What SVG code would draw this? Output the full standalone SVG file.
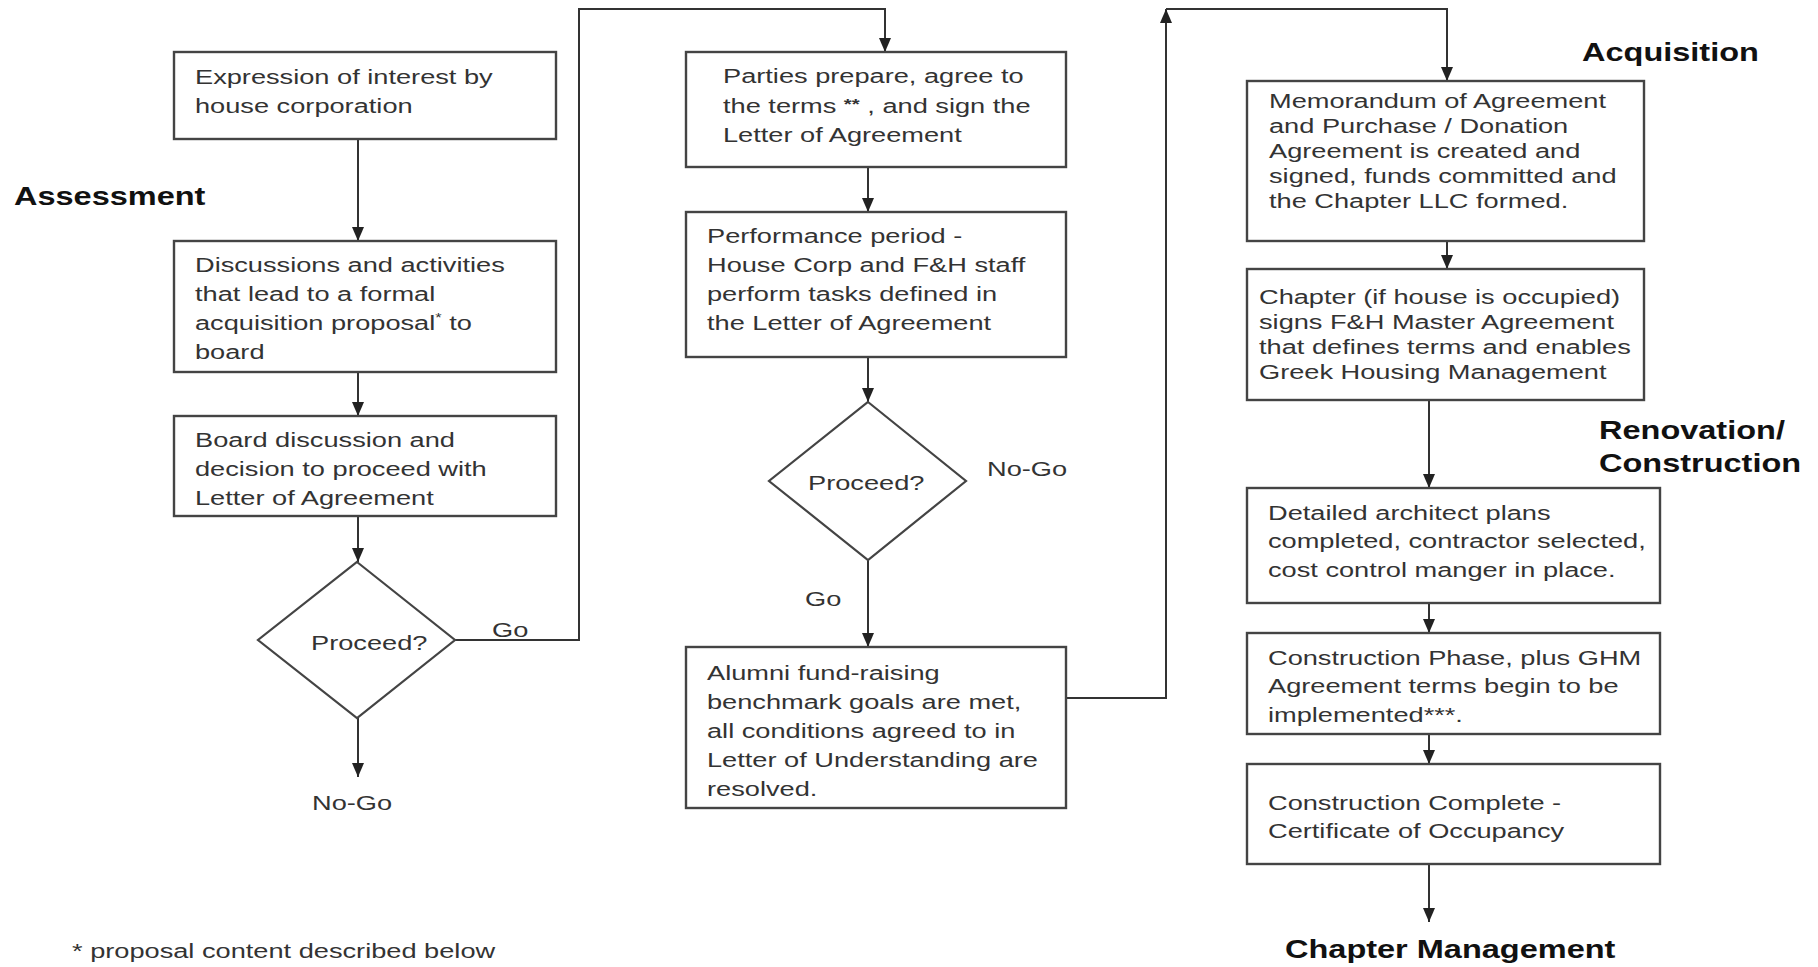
<svg xmlns="http://www.w3.org/2000/svg" width="1818" height="967" viewBox="0 0 1818 967">
<style>
.box{fill:#fff;stroke:#444;stroke-width:2.4}
.dia{fill:#fff;stroke:#444;stroke-width:2.2}
.ln{fill:none;stroke:#333;stroke-width:2}
.t{font-family:"Liberation Sans",Arial,sans-serif;font-size:20px;fill:#333}
.h{font-family:"Liberation Sans",Arial,sans-serif;font-size:26px;font-weight:bold;fill:#111}
</style>
<defs>
<marker id="ar" markerUnits="userSpaceOnUse" markerWidth="14" markerHeight="12" refX="14" refY="6" orient="auto">
<path d="M0,0 L14,6 L0,12 z" fill="#222"/>
</marker>
</defs>
<rect width="1818" height="967" fill="#fff"/>

<g id="connectors">
<path class="ln" d="M358,139 V241" marker-end="url(#ar)"/>
<path class="ln" d="M358,372 V416" marker-end="url(#ar)"/>
<path class="ln" d="M358,516 V562" marker-end="url(#ar)"/>
<path class="ln" d="M358,718 V777" marker-end="url(#ar)"/>
<path class="ln" d="M455,640 H579 V9 H885 V52" marker-end="url(#ar)"/>
<path class="ln" d="M868,167 V212" marker-end="url(#ar)"/>
<path class="ln" d="M868,357 V402" marker-end="url(#ar)"/>
<path class="ln" d="M868,560 V647" marker-end="url(#ar)"/>
<path class="ln" d="M1066,698 H1166 V9" marker-end="url(#ar)"/>
<path class="ln" d="M1166,9 H1447 V81" marker-end="url(#ar)"/>
<path class="ln" d="M1447,241 V269" marker-end="url(#ar)"/>
<path class="ln" d="M1429,400 V488" marker-end="url(#ar)"/>
<path class="ln" d="M1429,603 V633" marker-end="url(#ar)"/>
<path class="ln" d="M1429,734 V764" marker-end="url(#ar)"/>
<path class="ln" d="M1429,864 V922" marker-end="url(#ar)"/>
<g transform="matrix(1.36 0 0 1 492 0)"><text class="t" x="0" y="637">Go</text></g>
<g transform="matrix(1.36 0 0 1 312 0)"><text class="t" x="0" y="810">No-Go</text></g>
<g transform="matrix(1.36 0 0 1 805 0)"><text class="t" x="0" y="606">Go</text></g>
<g transform="matrix(1.36 0 0 1 987 0)"><text class="t" x="0" y="476">No-Go</text></g>
</g>

<g id="label-assessment" transform="matrix(1.25 0 0 1 14 0)"><text class="h" x="0" y="205">Assessment</text></g>
<g id="label-acquisition" transform="matrix(1.25 0 0 1 1582 0)"><text class="h" x="0" y="61">Acquisition</text></g>
<g id="label-renovation" transform="matrix(1.25 0 0 1 1599 0)"><text class="h" x="0" y="439">Renovation/</text><text class="h" x="0" y="472">Construction</text></g>
<g id="label-chapter-management" transform="matrix(1.25 0 0 1 1285 0)"><text class="h" x="0" y="958">Chapter Management</text></g>

<g id="n-expression">
<rect class="box" x="174" y="52" width="382" height="87"/>
<g transform="matrix(1.36 0 0 1 195 0)"><text class="t" x="0" y="84">Expression of interest by</text><text class="t" x="0" y="113">house corporation</text></g>
</g>
<g id="n-discussions">
<rect class="box" x="174" y="241" width="382" height="131"/>
<g transform="matrix(1.36 0 0 1 195 0)"><text class="t" x="0" y="272">Discussions and activities</text><text class="t" x="0" y="301">that lead to a formal</text><text class="t" x="0" y="330">acquisition proposal<tspan font-size="12" dy="-8">*</tspan><tspan dy="8"> to</tspan></text><text class="t" x="0" y="359">board</text></g>
</g>
<g id="n-board">
<rect class="box" x="174" y="416" width="382" height="100"/>
<g transform="matrix(1.36 0 0 1 195 0)"><text class="t" x="0" y="447">Board discussion and</text><text class="t" x="0" y="476">decision to proceed with</text><text class="t" x="0" y="505">Letter of Agreement</text></g>
</g>
<g id="n-proceed1">
<polygon class="dia" points="357,562 455,640 357,718 258,640"/>
<g transform="matrix(1.36 0 0 1 311 0)"><text class="t" x="0" y="650">Proceed?</text></g>
</g>

<g id="n-parties">
<rect class="box" x="686" y="52" width="380" height="115"/>
<g transform="matrix(1.36 0 0 1 723 0)"><text class="t" x="0" y="83">Parties prepare, agree to</text><text class="t" x="0" y="113">the terms <tspan font-size="15" font-weight="bold" dy="-4">**</tspan><tspan dy="4"> , and sign the</tspan></text><text class="t" x="0" y="142">Letter of Agreement</text></g>
</g>
<g id="n-performance">
<rect class="box" x="686" y="212" width="380" height="145"/>
<g transform="matrix(1.36 0 0 1 707 0)"><text class="t" x="0" y="243">Performance period -</text><text class="t" x="0" y="272">House Corp and F&amp;H staff</text><text class="t" x="0" y="301">perform tasks defined in</text><text class="t" x="0" y="330">the Letter of Agreement</text></g>
</g>
<g id="n-proceed2">
<polygon class="dia" points="868,402 966,481 868,560 769,481"/>
<g transform="matrix(1.36 0 0 1 808 0)"><text class="t" x="0" y="490">Proceed?</text></g>
</g>
<g id="n-alumni">
<rect class="box" x="686" y="647" width="380" height="161"/>
<g transform="matrix(1.36 0 0 1 707 0)"><text class="t" x="0" y="680">Alumni fund-raising</text><text class="t" x="0" y="709">benchmark goals are met,</text><text class="t" x="0" y="738">all conditions agreed to in</text><text class="t" x="0" y="767">Letter of Understanding are</text><text class="t" x="0" y="796">resolved.</text></g>
</g>

<g id="n-memorandum">
<rect class="box" x="1247" y="81" width="397" height="160"/>
<g transform="matrix(1.36 0 0 1 1269 0)"><text class="t" x="0" y="108">Memorandum of Agreement</text><text class="t" x="0" y="133">and Purchase / Donation</text><text class="t" x="0" y="158">Agreement is created and</text><text class="t" x="0" y="183">signed, funds committed and</text><text class="t" x="0" y="208">the Chapter LLC formed.</text></g>
</g>
<g id="n-chapter">
<rect class="box" x="1247" y="269" width="397" height="131"/>
<g transform="matrix(1.36 0 0 1 1259 0)"><text class="t" x="0" y="304">Chapter (if house is occupied)</text><text class="t" x="0" y="329">signs F&amp;H Master Agreement</text><text class="t" x="0" y="354">that defines terms and enables</text><text class="t" x="0" y="379">Greek Housing Management</text></g>
</g>
<g id="n-detailed">
<rect class="box" x="1247" y="488" width="413" height="115"/>
<g transform="matrix(1.36 0 0 1 1268 0)"><text class="t" x="0" y="520">Detailed architect plans</text><text class="t" x="0" y="548">completed, contractor selected,</text><text class="t" x="0" y="577">cost control manger in place.</text></g>
</g>
<g id="n-phase">
<rect class="box" x="1247" y="633" width="413" height="101"/>
<g transform="matrix(1.36 0 0 1 1268 0)"><text class="t" x="0" y="665">Construction Phase, plus GHM</text><text class="t" x="0" y="693">Agreement terms begin to be</text><text class="t" x="0" y="722">implemented***.</text></g>
</g>
<g id="n-complete">
<rect class="box" x="1247" y="764" width="413" height="100"/>
<g transform="matrix(1.36 0 0 1 1268 0)"><text class="t" x="0" y="810">Construction Complete -</text><text class="t" x="0" y="838">Certificate of Occupancy</text></g>
</g>

<g id="footnote" transform="matrix(1.36 0 0 1 72 0)"><text class="t" x="0" y="958">* proposal content described below</text></g>
</svg>
